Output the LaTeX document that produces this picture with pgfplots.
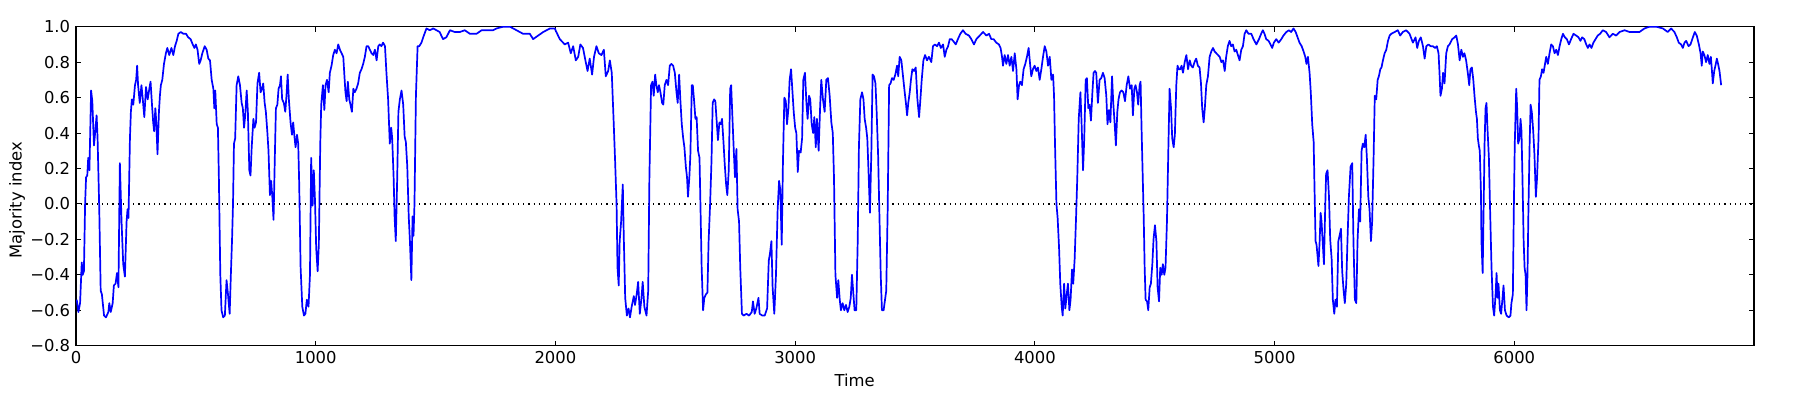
\documentclass[border=0pt]{standalone}
\usepackage{fontspec}
\setmainfont{DejaVu Sans}
\usepackage{pgfplots}
\pgfplotsset{compat=1.18}
\usepackage{pgfplotstable}

% majority index over time
\pgfplotstableread{
t v
3 -0.54
10 -0.61
17 -0.56
24 -0.33
28 -0.40
33 -0.38
38 0.0
42 0.15
47 0.16
51 0.26
56 0.19
63 0.64
68 0.58
75 0.33
81 0.42
86 0.50
90 0.37
97 -0.03
103 -0.49
108 -0.51
117 -0.63
125 -0.64
135 -0.61
139 -0.56
145 -0.61
153 -0.56
158 -0.46
165 -0.45
171 -0.39
177 -0.47
183 0.23
190 -0.10
197 -0.34
204 -0.41
211 -0.10
215 -0.03
219 -0.08
225 0.37
229 0.52
233 0.59
239 0.56
246 0.67
251 0.70
255 0.78
259 0.67
266 0.57
273 0.67
278 0.60
285 0.49
292 0.66
299 0.59
306 0.65
311 0.69
317 0.56
322 0.46
326 0.41
331 0.54
335 0.46
340 0.28
346 0.52
350 0.61
354 0.67
360 0.70
367 0.79
375 0.85
381 0.88
389 0.84
398 0.88
406 0.84
413 0.89
420 0.92
427 0.96
437 0.97
448 0.96
459 0.96
468 0.94
478 0.93
487 0.90
494 0.88
500 0.90
507 0.87
514 0.79
520 0.81
527 0.85
537 0.89
545 0.87
552 0.82
559 0.81
566 0.70
573 0.65
577 0.54
581 0.64
587 0.45
592 0.43
596 0.15
602 -0.40
607 -0.60
614 -0.64
621 -0.63
628 -0.43
634 -0.51
641 -0.62
646 -0.40
651 -0.20
655 0.0
659 0.34
664 0.37
670 0.67
677 0.72
684 0.67
691 0.57
696 0.54
701 0.43
706 0.50
712 0.64
717 0.52
723 0.19
728 0.16
733 0.32
740 0.48
745 0.43
751 0.46
757 0.68
764 0.74
770 0.63
776 0.65
781 0.68
787 0.57
792 0.52
798 0.41
803 0.30
809 0.05
814 0.13
819 0.04
824 -0.09
830 0.30
834 0.54
840 0.56
845 0.65
851 0.67
855 0.72
860 0.59
867 0.57
873 0.52
878 0.61
883 0.73
888 0.59
895 0.46
901 0.39
906 0.46
912 0.37
916 0.32
922 0.39
927 0.34
931 0.12
937 -0.36
944 -0.58
951 -0.63
957 -0.62
963 -0.54
970 -0.58
976 -0.40
981 0.26
987 -0.01
992 0.19
997 0.02
1002 -0.25
1008 -0.38
1013 -0.23
1019 0.34
1023 0.56
1030 0.67
1036 0.53
1041 0.67
1047 0.70
1054 0.63
1059 0.74
1066 0.78
1073 0.84
1080 0.87
1087 0.85
1094 0.90
1101 0.87
1108 0.85
1115 0.83
1119 0.74
1124 0.63
1129 0.58
1134 0.69
1140 0.59
1145 0.56
1151 0.52
1157 0.65
1163 0.63
1170 0.65
1177 0.68
1184 0.74
1191 0.76
1198 0.79
1205 0.83
1212 0.89
1219 0.89
1226 0.87
1233 0.85
1240 0.84
1247 0.87
1254 0.81
1261 0.89
1267 0.90
1274 0.89
1281 0.91
1289 0.89
1295 0.74
1302 0.59
1309 0.34
1315 0.43
1319 0.37
1325 0.15
1329 -0.07
1334 -0.21
1340 0.15
1345 0.52
1351 0.59
1358 0.64
1365 0.56
1371 0.38
1376 0.35
1382 0.21
1388 -0.07
1393 -0.21
1399 -0.43
1404 -0.07
1408 -0.18
1412 0.0
1418 0.61
1425 0.89
1432 0.89
1441 0.91
1451 0.95
1462 0.99
1476 0.98
1490 0.99
1504 0.98
1517 0.97
1531 0.93
1545 0.94
1560 0.98
1580 0.97
1601 0.97
1622 0.98
1643 0.96
1671 0.96
1692 0.98
1719 0.98
1740 0.98
1754 0.99
1782 1.0
1810 1.0
1824 0.99
1865 0.96
1893 0.96
1907 0.93
1928 0.95
1949 0.97
1977 0.99
1997 0.99
2018 0.93
2039 0.90
2053 0.91
2064 0.85
2074 0.89
2085 0.81
2095 0.83
2104 0.90
2115 0.88
2125 0.81
2134 0.75
2143 0.82
2153 0.73
2161 0.83
2171 0.89
2181 0.85
2192 0.84
2202 0.87
2210 0.72
2220 0.75
2227 0.81
2235 0.74
2243 0.46
2249 0.24
2255 0.0
2259 -0.36
2264 -0.46
2268 -0.21
2274 -0.10
2281 0.11
2285 -0.18
2291 -0.53
2298 -0.63
2305 -0.59
2311 -0.64
2318 -0.58
2327 -0.52
2332 -0.57
2339 -0.51
2345 -0.44
2352 -0.62
2359 -0.53
2364 -0.44
2371 -0.58
2380 -0.63
2387 -0.49
2392 0.15
2399 0.67
2405 0.69
2410 0.61
2416 0.73
2421 0.67
2427 0.63
2432 0.67
2438 0.63
2445 0.57
2450 0.56
2456 0.67
2463 0.70
2470 0.67
2477 0.78
2484 0.79
2491 0.78
2498 0.74
2505 0.63
2510 0.57
2516 0.73
2521 0.59
2527 0.45
2533 0.37
2538 0.32
2544 0.21
2549 0.15
2553 0.04
2559 0.16
2563 0.28
2569 0.67
2573 0.67
2578 0.59
2584 0.48
2589 0.49
2595 0.30
2601 0.26
2605 -0.01
2610 -0.36
2616 -0.60
2621 -0.53
2628 -0.51
2634 -0.50
2639 -0.21
2645 -0.01
2651 0.24
2656 0.57
2662 0.59
2667 0.58
2673 0.46
2678 0.36
2684 0.46
2690 0.45
2695 0.48
2701 0.35
2706 0.23
2712 0.11
2717 0.05
2723 0.19
2729 0.65
2733 0.67
2738 0.50
2744 0.30
2749 0.15
2755 0.31
2760 -0.03
2766 -0.10
2771 -0.36
2778 -0.62
2785 -0.63
2797 -0.62
2808 -0.63
2819 -0.61
2824 -0.55
2831 -0.62
2838 -0.59
2847 -0.53
2852 -0.62
2863 -0.63
2873 -0.63
2883 -0.59
2890 -0.32
2895 -0.28
2901 -0.21
2906 -0.47
2913 -0.62
2920 -0.40
2927 -0.03
2933 0.13
2938 0.08
2944 -0.23
2949 0.23
2955 0.60
2961 0.58
2966 0.45
2972 0.54
2977 0.70
2983 0.76
2988 0.65
2994 0.52
3000 0.43
3005 0.40
3011 0.18
3016 0.30
3023 0.29
3029 0.37
3034 0.70
3041 0.74
3047 0.57
3052 0.48
3058 0.61
3063 0.59
3069 0.45
3075 0.40
3080 0.49
3086 0.32
3091 0.48
3098 0.30
3104 0.54
3109 0.70
3116 0.59
3123 0.52
3130 0.70
3137 0.71
3144 0.61
3151 0.46
3157 0.40
3162 0.15
3168 -0.40
3175 -0.53
3180 -0.43
3186 -0.54
3191 -0.60
3198 -0.56
3205 -0.60
3212 -0.57
3219 -0.61
3226 -0.58
3232 -0.53
3237 -0.40
3243 -0.51
3248 -0.60
3255 -0.60
3261 -0.21
3266 0.32
3272 0.59
3279 0.63
3285 0.59
3290 0.48
3296 0.43
3301 0.37
3307 0.15
3312 -0.05
3318 0.30
3323 0.73
3329 0.72
3335 0.68
3340 0.52
3346 0.28
3351 -0.03
3357 -0.40
3362 -0.60
3369 -0.60
3375 -0.54
3380 -0.49
3386 -0.03
3392 0.67
3398 0.68
3404 0.71
3411 0.70
3418 0.73
3425 0.78
3430 0.72
3436 0.83
3443 0.81
3450 0.72
3457 0.63
3462 0.57
3467 0.50
3472 0.57
3478 0.63
3483 0.70
3489 0.76
3496 0.75
3503 0.77
3510 0.59
3517 0.49
3522 0.58
3528 0.70
3535 0.81
3542 0.84
3550 0.81
3558 0.83
3568 0.80
3575 0.89
3583 0.90
3592 0.89
3600 0.91
3608 0.88
3617 0.90
3624 0.83
3631 0.87
3638 0.89
3645 0.93
3652 0.93
3659 0.92
3670 0.90
3679 0.93
3689 0.96
3700 0.98
3711 0.96
3725 0.95
3735 0.93
3746 0.90
3756 0.93
3770 0.95
3784 0.97
3798 0.95
3809 0.96
3818 0.93
3828 0.93
3839 0.91
3850 0.90
3857 0.88
3863 0.83
3867 0.78
3874 0.84
3881 0.79
3888 0.84
3895 0.78
3902 0.83
3909 0.75
3916 0.85
3923 0.76
3928 0.59
3934 0.67
3939 0.69
3946 0.67
3953 0.76
3960 0.79
3967 0.83
3974 0.88
3980 0.79
3985 0.72
3992 0.76
3999 0.78
4006 0.75
4013 0.77
4020 0.70
4027 0.76
4034 0.83
4041 0.89
4048 0.86
4055 0.78
4062 0.83
4069 0.70
4076 0.73
4080 0.61
4084 0.34
4090 0.0
4095 -0.08
4101 -0.25
4106 -0.45
4112 -0.58
4116 -0.63
4122 -0.45
4127 -0.59
4133 -0.51
4138 -0.45
4144 -0.60
4149 -0.54
4155 -0.37
4160 -0.45
4166 -0.31
4172 -0.07
4177 0.15
4183 0.48
4190 0.63
4195 0.45
4201 0.19
4206 0.37
4212 0.70
4217 0.71
4223 0.54
4228 0.56
4234 0.47
4240 0.63
4245 0.74
4251 0.75
4256 0.74
4263 0.57
4270 0.70
4277 0.71
4284 0.74
4291 0.71
4298 0.61
4303 0.45
4309 0.53
4315 0.46
4322 0.72
4327 0.57
4333 0.45
4338 0.33
4344 0.52
4349 0.59
4355 0.63
4362 0.64
4369 0.63
4376 0.58
4383 0.67
4390 0.72
4397 0.65
4404 0.67
4409 0.50
4415 0.65
4420 0.67
4426 0.63
4431 0.56
4437 0.67
4441 0.69
4445 0.43
4450 0.15
4454 -0.07
4458 -0.36
4462 -0.54
4468 -0.55
4473 -0.60
4479 -0.47
4484 -0.45
4490 -0.34
4495 -0.20
4501 -0.12
4507 -0.21
4512 -0.47
4518 -0.55
4523 -0.36
4529 -0.40
4534 -0.34
4540 -0.40
4545 -0.36
4551 -0.10
4557 0.32
4562 0.65
4568 0.54
4573 0.37
4579 0.32
4584 0.39
4590 0.67
4595 0.78
4601 0.76
4607 0.76
4612 0.78
4618 0.74
4625 0.80
4632 0.84
4639 0.76
4646 0.81
4652 0.78
4659 0.77
4666 0.80
4673 0.82
4680 0.78
4687 0.77
4693 0.68
4698 0.54
4704 0.46
4709 0.54
4715 0.67
4722 0.72
4729 0.83
4736 0.86
4743 0.88
4750 0.86
4757 0.85
4764 0.84
4771 0.83
4778 0.80
4785 0.81
4792 0.75
4798 0.83
4805 0.89
4812 0.92
4819 0.89
4826 0.90
4833 0.86
4840 0.87
4847 0.84
4854 0.81
4861 0.87
4868 0.89
4875 0.96
4882 0.98
4891 0.96
4903 0.96
4912 0.93
4924 0.90
4935 0.93
4944 0.96
4951 0.98
4958 0.96
4965 0.93
4975 0.92
4983 0.90
4990 0.88
4997 0.91
5007 0.93
5017 0.91
5028 0.93
5037 0.95
5049 0.97
5060 0.98
5069 0.97
5079 0.99
5088 0.97
5096 0.94
5104 0.91
5113 0.89
5121 0.86
5128 0.83
5133 0.79
5139 0.83
5146 0.74
5151 0.63
5157 0.45
5163 0.35
5167 0.06
5171 -0.21
5175 -0.23
5179 -0.29
5183 -0.35
5188 -0.21
5192 -0.05
5196 -0.10
5200 -0.20
5206 -0.34
5211 -0.03
5215 0.17
5221 0.19
5227 0.04
5232 -0.20
5238 -0.31
5243 -0.54
5249 -0.62
5254 -0.54
5260 -0.58
5266 -0.21
5271 -0.18
5277 -0.14
5282 -0.38
5288 -0.49
5293 -0.56
5299 -0.45
5304 -0.21
5310 0.04
5317 0.21
5324 0.23
5329 -0.21
5335 -0.54
5341 -0.56
5346 -0.21
5352 -0.03
5357 -0.10
5363 0.30
5368 0.34
5374 0.32
5380 0.39
5385 0.26
5391 0.04
5396 -0.03
5402 -0.21
5407 -0.10
5413 0.26
5418 0.61
5424 0.59
5430 0.70
5435 0.72
5441 0.76
5446 0.77
5452 0.81
5459 0.85
5466 0.87
5473 0.92
5480 0.95
5487 0.96
5501 0.97
5514 0.98
5524 0.95
5535 0.97
5549 0.98
5563 0.96
5577 0.91
5588 0.94
5595 0.88
5602 0.92
5610 0.94
5619 0.89
5626 0.82
5633 0.89
5642 0.90
5651 0.89
5660 0.89
5670 0.88
5677 0.89
5684 0.85
5688 0.74
5692 0.61
5698 0.65
5703 0.74
5709 0.68
5716 0.85
5723 0.89
5730 0.90
5741 0.93
5751 0.94
5758 0.95
5765 0.90
5772 0.81
5779 0.87
5786 0.83
5792 0.85
5799 0.81
5806 0.74
5812 0.67
5817 0.76
5823 0.77
5829 0.70
5834 0.61
5840 0.52
5844 0.48
5848 0.37
5852 0.33
5856 0.30
5861 0.06
5863 -0.21
5868 -0.39
5872 -0.03
5876 0.34
5880 0.54
5884 0.57
5888 0.43
5894 0.26
5899 -0.03
5905 -0.36
5911 -0.58
5916 -0.63
5922 -0.51
5926 -0.39
5930 -0.53
5934 -0.45
5940 -0.60
5945 -0.62
5951 -0.53
5955 -0.46
5961 -0.60
5968 -0.63
5977 -0.64
5984 -0.63
5988 -0.56
5994 -0.51
5998 -0.03
6002 0.34
6008 0.65
6012 0.54
6016 0.34
6022 0.37
6026 0.48
6030 0.41
6034 0.15
6039 -0.21
6043 -0.36
6047 -0.40
6051 -0.60
6055 -0.40
6059 -0.03
6064 0.34
6068 0.56
6073 0.52
6079 0.41
6084 0.28
6090 0.04
6095 0.15
6101 0.37
6105 0.70
6111 0.72
6116 0.76
6122 0.74
6127 0.78
6133 0.83
6140 0.79
6147 0.85
6154 0.90
6161 0.89
6168 0.85
6175 0.87
6182 0.84
6189 0.89
6196 0.93
6203 0.96
6211 0.94
6219 0.93
6228 0.90
6237 0.93
6247 0.96
6258 0.95
6268 0.94
6276 0.92
6283 0.94
6292 0.93
6300 0.90
6307 0.88
6314 0.90
6322 0.88
6330 0.91
6339 0.93
6348 0.95
6358 0.96
6369 0.98
6383 0.97
6397 0.94
6411 0.96
6425 0.95
6439 0.97
6460 0.98
6481 0.97
6501 0.97
6522 0.97
6543 0.99
6564 1.0
6592 1.0
6620 0.99
6640 0.97
6654 0.99
6668 0.97
6678 0.94
6686 0.91
6696 0.90
6703 0.88
6710 0.91
6717 0.92
6727 0.89
6735 0.90
6745 0.94
6753 0.97
6761 0.95
6770 0.90
6777 0.85
6782 0.78
6786 0.86
6793 0.84
6800 0.80
6807 0.84
6814 0.79
6820 0.83
6824 0.76
6828 0.68
6834 0.75
6839 0.78
6845 0.82
6850 0.79
6856 0.75
6863 0.67
}\majority

\begin{document}
\fontsize{8.2}{10}\selectfont
\begin{tikzpicture}
\begin{axis}[
    scale only axis,
    width=839pt, height=159.5pt,
    xmin=0, xmax=7000,
    ymin=-0.8, ymax=1.0,
    xtick={0,1000,...,6000},
    ytick={-0.8,-0.6,...,1.0},
    yticklabels={−0.8,−0.6,−0.4,−0.2,0.0,0.2,0.4,0.6,0.8,1.0},
    scaled x ticks=false,
    /pgf/number format/assume math mode=true,
    /pgf/number format/1000 sep={},
    tick align=inside,
    major tick length=2.5pt,
    tick style={black, line width=0.5pt},
    axis line style={black, line width=0.6pt},
    ticklabel style={font=\fontsize{8.2}{10}\selectfont},
    xlabel={Time},
    ylabel={Majority index},
    xlabel style={at={(axis description cs:0.464,0)}, anchor=north, inner sep=0pt, yshift=-14pt},
    ylabel style={at={(axis description cs:0,0.456)}, anchor=center, yshift=29.5pt},
]
\addplot[black, dotted, line width=0.6pt] coordinates {(0,0) (7000,0)};
\addplot[blue, line width=0.85pt, line join=round] table[x=t, y=v] {\majority};
\end{axis}
\path ([xshift=-38pt, yshift=-25.15pt]current axis.south west) rectangle ([xshift=20.5pt, yshift=13.35pt]current axis.north east);
\end{tikzpicture}
\end{document}
